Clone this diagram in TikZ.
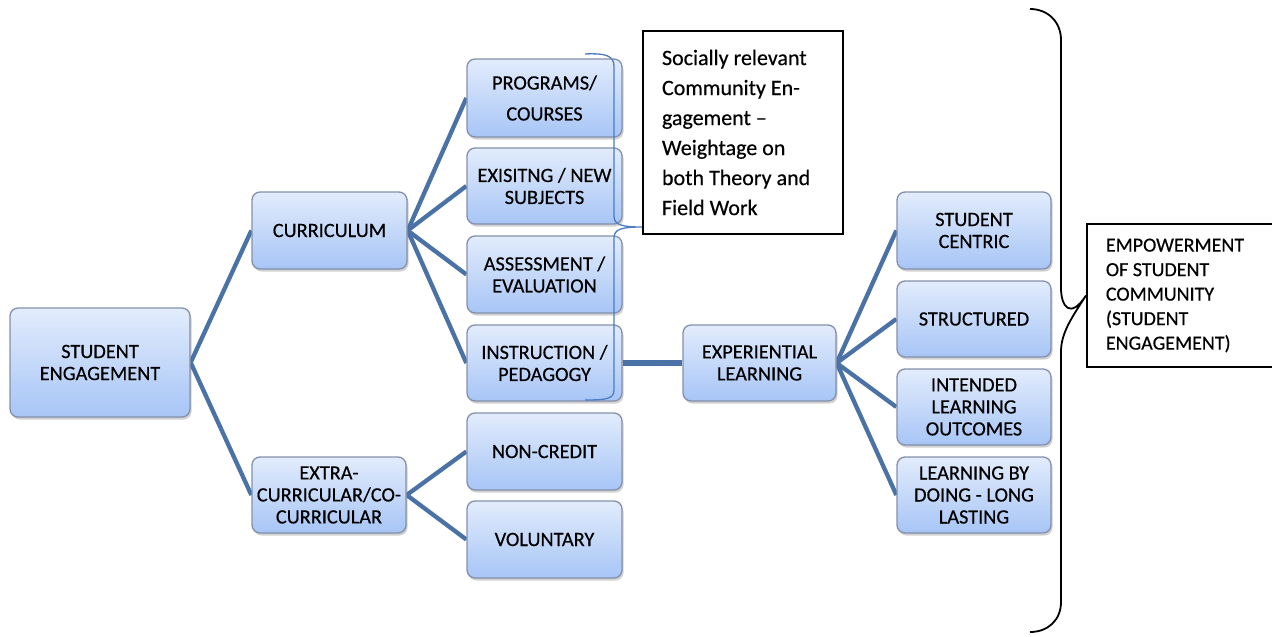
\documentclass[tikz,border=0pt]{standalone}
\usepackage{fontspec}
\setmainfont{Carlito}[FakeBold=0.4]
\usetikzlibrary{shadows,backgrounds}
\definecolor{boxtop}{HTML}{E2ECFC}
\definecolor{boxbot}{HTML}{A7C5F6}
\definecolor{boxline}{HTML}{8490AA}
\definecolor{linkblue}{HTML}{4A72A6}
\definecolor{bracketblue}{HTML}{4A7DC2}

\begin{document}
\begin{tikzpicture}[x=1pt,y=-1pt,
  box/.style={draw=boxline, line width=1.3pt, rounded corners=8pt,
    top color=boxtop, bottom color=boxbot,
    minimum width=155pt, minimum height=77pt, align=center, inner sep=2pt,
    font=\fontsize{20.3}{22}\selectfont,
    drop shadow={shadow xshift=1.5pt, shadow yshift=-2.5pt, opacity=0.3, fill=black!60}},
  link/.style={draw=linkblue, line width=4.3pt},
  notebox/.style={draw=black, line width=1.8pt, align=flush left},
  ]
\useasboundingbox (0,0) rectangle (1272,637);

% first level
\node[box, minimum width=180pt, minimum height=109pt] (se) at (100,362.5) {STUDENT\\ENGAGEMENT};

% second level
\node[box] (cur) at (329.5,230.5) {CURRICULUM};
\node[box, minimum width=154pt, minimum height=76pt] (ext) at (329,495) {EXTRA-\\CURRICULAR/CO-\\CURRICULAR};

% curriculum components
\node[box, minimum height=78pt] (prog) at (544.5,98) {PROGRAMS/\\[9pt]COURSES};
\node[box, minimum height=76pt] (subj) at (544.5,186) {EXISITNG / NEW\\SUBJECTS};
\node[box] (assess) at (544.5,274.5) {ASSESSMENT /\\EVALUATION};
\node[box, minimum height=76pt] (instr) at (544.5,363) {INSTRUCTION /\\PEDAGOGY};

% co-curricular components
\node[box] (noncr) at (544.5,451.5) {NON-CREDIT};
\node[box] (volun) at (544.5,539.5) {VOLUNTARY};

% experiential learning
\node[box, minimum width=153pt, minimum height=76pt] (exp) at (759.5,363) {EXPERIENTIAL\\LEARNING};

\node[box, minimum width=154pt] (centric) at (974,230.5) {STUDENT\\CENTRIC};
\node[box, minimum width=154pt, minimum height=76pt] (struct) at (974,319) {STRUCTURED};
\node[box, minimum width=154pt, minimum height=76pt] (ilo) at (974,407) {INTENDED\\LEARNING\\OUTCOMES};
\node[box, minimum width=154pt, minimum height=76pt] (doing) at (974,495) {LEARNING BY\\DOING - LONG\\LASTING};

% connectors
\begin{scope}[on background layer]
\draw[link] (se.east) -- (cur.west);
\draw[link] (se.east) -- (ext.west);
\foreach \c in {prog,subj,assess,instr} \draw[link] (cur.east) -- (\c.west);
\foreach \c in {noncr,volun} \draw[link] (ext.east) -- (\c.west);
\draw[link, line width=6pt] (instr.east) -- (exp.west);
\foreach \c in {centric,struct,ilo,doing} \draw[link] (exp.east) -- (\c.west);
\end{scope}

% note on the curriculum components
\node[notebox, minimum width=200pt, minimum height=203pt, inner xsep=19pt,
      text width=162pt, font=\fontsize{22}{30}\selectfont] (note) at (743,132.5)
  {Socially relevant\\Community En-\\gagement --\\Weightage on\\both Theory and\\Field Work};
\coordinate (notetip) at (note.west |- 0,227);
\draw[bracketblue, line width=1.3pt]
  (585,54) .. controls (606,53) and (614,56) .. (614,66)
  -- (614,216) .. controls (614,225) and (622,227) .. (notetip)
  .. controls (622,227) and (614,229) .. (614,238)
  -- (614,390) .. controls (614,399) and (606,400) .. (585,400);

% outcome
\node[notebox, minimum width=188pt, minimum height=143pt, inner xsep=19pt,
      text width=150pt, font=\fontsize{20}{24.5}\selectfont, anchor=west] (emp) at (1086,295.5)
  {EMPOWERMENT\\OF STUDENT\\COMMUNITY\\(STUDENT\\ENGAGEMENT)};
\coordinate (bracetop) at (1030,9);
\coordinate (bracebot) at (1030,632);
\draw[black, line width=1.8pt]
  (bracetop) .. controls (1048,9) and (1061,22) .. (1061,40)
  -- (1061,288) .. controls (1061,306) and (1070,320) .. (emp.west)
  .. controls (1070,320) and (1061,334) .. (1061,352)
  -- (1061,602) .. controls (1061,620) and (1048,632) .. (bracebot);
\end{tikzpicture}
\end{document}
